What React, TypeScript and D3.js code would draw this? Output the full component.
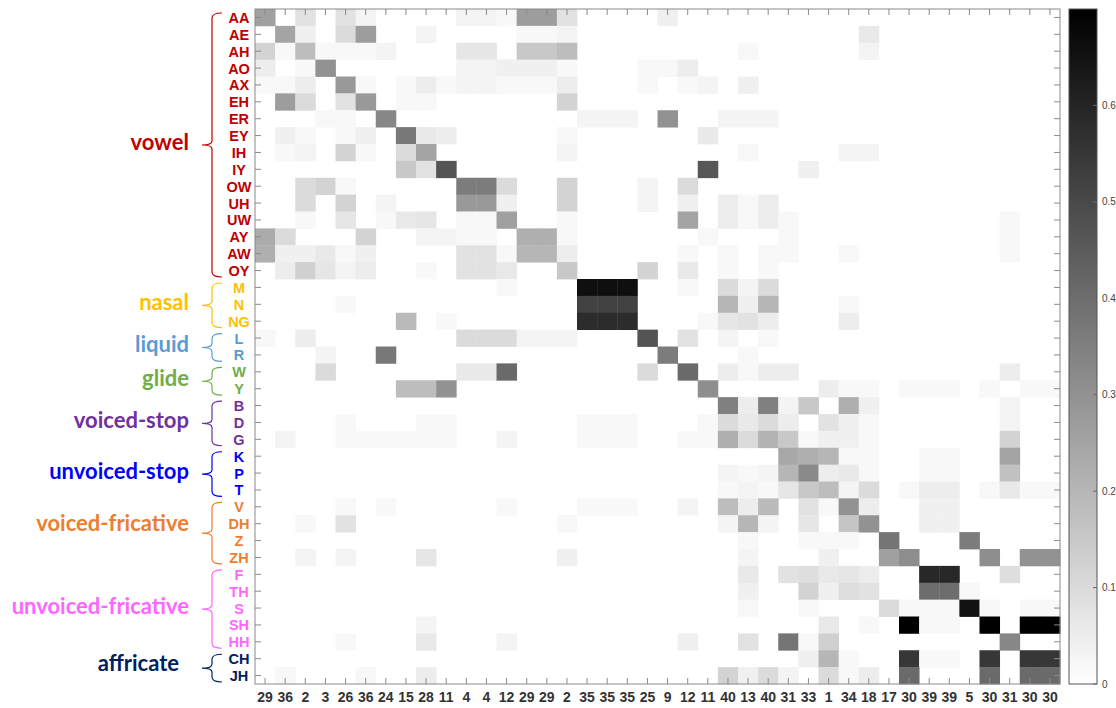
import React from "react";
import * as d3 from "d3";

// Phoneme rows (top to bottom) and the cluster id assigned to each column.
const phonemes = [
  "AA", "AE", "AH", "AO", "AX", "EH", "ER", "EY", "IH", "IY", "OW", "UH", "UW", "AY", "AW", "OY",
  "M", "N", "NG", "L", "R", "W", "Y", "B", "D", "G", "K", "P", "T",
  "V", "DH", "Z", "ZH", "F", "TH", "S", "SH", "HH", "CH", "JH",
];
const clusterIds = [
  "29", "36", "2", "3", "26", "36", "24", "15", "28", "11", "4", "4", "12", "29", "29", "2",
  "35", "35", "35", "25", "9", "12", "11", "40", "13", "40", "31", "33", "1", "34", "18", "17",
  "30", "39", "39", "5", "30", "31", "30", "30",
];

// Phoneme classes, in row order, with the number of phonemes in each.
const groupNames = [
  "vowel", "nasal", "liquid", "glide", "voiced-stop", "unvoiced-stop",
  "voiced-fricative", "unvoiced-fricative", "affricate",
];
const groupSizes = [16, 3, 2, 2, 3, 3, 4, 5, 2];

// Non-zero proportions per row as [column, value]; unlisted cells are 0.
const vowelRows: [number, number][][] = [
  [[0, .26], [2, .08], [4, .08], [5, .03], [10, .03], [11, .03], [12, .02], [13, .27], [14, .27], [15, .08], [20, .04]],
  [[1, .25], [2, .04], [4, .1], [5, .27], [8, .03], [13, .02], [14, .02], [15, .03], [30, .06]],
  [[0, .12], [1, .02], [2, .18], [3, .02], [4, .02], [5, .02], [6, .03], [10, .07], [11, .07], [13, .15], [14, .15], [15, .18], [24, .02], [30, .03]],
  [[0, .05], [2, .02], [3, .3], [10, .03], [11, .03], [12, .04], [13, .04], [14, .04], [15, .02], [19, .02], [20, .02], [21, .05]],
  [[0, .02], [1, .02], [2, .05], [4, .28], [5, .02], [7, .02], [8, .05], [9, .02], [10, .03], [11, .03], [12, .02], [13, .02], [14, .02], [15, .05], [19, .02], [21, .02], [22, .03], [24, .04]],
  [[1, .27], [2, .1], [4, .08], [5, .28], [7, .02], [8, .02], [15, .12]],
  [[3, .02], [4, .02], [6, .33], [16, .03], [17, .03], [18, .03], [20, .3], [23, .03], [24, .03], [25, .03]],
  [[1, .04], [2, .02], [4, .02], [5, .04], [7, .37], [8, .06], [9, .05], [15, .02], [22, .06]],
  [[1, .02], [2, .03], [4, .12], [5, .02], [7, .1], [8, .25], [15, .03], [24, .02], [29, .03], [30, .03]],
  [[7, .15], [8, .08], [9, .47], [22, .46], [27, .04]],
  [[2, .1], [3, .12], [4, .02], [10, .36], [11, .36], [12, .1], [15, .12], [19, .03], [21, .1]],
  [[2, .1], [4, .12], [6, .03], [10, .28], [11, .28], [12, .04], [15, .12], [19, .03], [21, .04], [23, .05], [24, .02], [25, .05]],
  [[2, .02], [4, .07], [6, .02], [7, .06], [8, .07], [10, .02], [11, .02], [12, .26], [15, .02], [21, .25], [23, .05], [24, .02], [25, .05], [26, .02], [37, .02]],
  [[0, .23], [1, .1], [5, .12], [8, .03], [9, .03], [10, .02], [11, .02], [13, .22], [14, .22], [15, .02], [22, .02], [26, .02], [37, .02]],
  [[0, .22], [1, .04], [2, .04], [3, .06], [4, .02], [5, .04], [10, .08], [11, .08], [12, .02], [13, .2], [14, .2], [15, .05], [21, .02], [23, .02], [25, .02], [26, .02], [29, .02], [37, .02]],
  [[1, .05], [2, .13], [3, .07], [4, .03], [5, .05], [8, .02], [10, .08], [11, .08], [12, .06], [15, .15], [19, .12], [21, .06], [23, .02], [25, .02]],
];
const nasalRows: [number, number][][] = [
  [[12, .02], [16, .66], [17, .66], [18, .66], [21, .02], [23, .1], [24, .03], [25, .1]],
  [[4, .02], [16, .52], [17, .52], [18, .52], [23, .2], [24, .04], [25, .2], [29, .02]],
  [[7, .19], [9, .02], [16, .58], [17, .58], [18, .58], [22, .02], [23, .07], [24, .08], [25, .05], [29, .05]],
];
const liquidGlideRows: [number, number][][] = [
  [[0, .02], [2, .05], [10, .1], [11, .1], [12, .1], [13, .03], [14, .03], [15, .03], [19, .47], [21, .08], [23, .03], [25, .02]],
  [[3, .03], [6, .37], [20, .36], [24, .02]],
  [[3, .1], [10, .06], [11, .06], [12, .41], [19, .1], [21, .41], [23, .05], [24, .02], [25, .05], [26, .05], [37, .05]],
  [[7, .18], [8, .18], [9, .3], [22, .31], [28, .05], [29, .02], [30, .02], [32, .02], [33, .02], [34, .02], [36, .02], [38, .02], [39, .02]],
];
const stopRows: [number, number][][] = [
  [[23, .35], [24, .05], [25, .35], [26, .03], [27, .15], [29, .22], [30, .04], [37, .03]],
  [[4, .02], [8, .02], [9, .02], [16, .02], [17, .02], [18, .02], [22, .02], [23, .1], [24, .06], [25, .1], [26, .05], [28, .08], [29, .04], [30, .02], [37, .03]],
  [[1, .03], [4, .02], [5, .02], [6, .02], [7, .02], [8, .02], [9, .02], [12, .03], [16, .02], [17, .02], [18, .02], [21, .02], [22, .02], [23, .22], [24, .1], [25, .21], [26, .15], [27, .02], [28, .04], [29, .04], [30, .02], [37, .12]],
  [[26, .24], [27, .22], [28, .2], [29, .02], [30, .02], [33, .02], [34, .02], [37, .25]],
  [[23, .03], [24, .02], [25, .03], [26, .2], [27, .32], [28, .05], [29, .06], [30, .02], [33, .02], [34, .02], [37, .17]],
  [[23, .02], [24, .03], [25, .02], [26, .07], [27, .15], [28, .18], [29, .03], [30, .1], [32, .02], [33, .05], [34, .05], [36, .02], [37, .06], [38, .02], [39, .02]],
];
const fricativeRows: [number, number][][] = [
  [[4, .02], [6, .02], [12, .02], [16, .02], [17, .02], [18, .02], [21, .03], [23, .18], [24, .05], [25, .19], [27, .08], [28, .02], [29, .3], [30, .05], [33, .04], [34, .04]],
  [[2, .02], [4, .08], [15, .02], [23, .03], [24, .2], [25, .03], [27, .07], [29, .16], [30, .3], [33, .04], [34, .04]],
  [[24, .02], [27, .02], [28, .02], [29, .02], [31, .38], [35, .36]],
  [[2, .03], [4, .03], [8, .07], [15, .04], [24, .03], [28, .04], [31, .26], [32, .31], [36, .31], [38, .3], [39, .3]],
  [[24, .06], [26, .08], [27, .09], [28, .06], [29, .07], [30, .05], [33, .59], [34, .59], [37, .09]],
  [[24, .04], [27, .12], [28, .04], [29, .09], [30, .08], [33, .4], [34, .4], [35, .02]],
  [[24, .02], [27, .02], [31, .1], [32, .02], [33, .02], [34, .02], [35, .65], [36, .02], [38, .02], [39, .02]],
  [[8, .03], [28, .06], [30, .02], [32, .7], [33, .02], [34, .02], [36, .7], [38, .7], [39, .7]],
  [[4, .02], [8, .06], [12, .03], [21, .04], [24, .08], [26, .38], [27, .02], [28, .13], [37, .33]],
];
const affricateRows: [number, number][][] = [
  [[27, .04], [28, .2], [29, .02], [32, .55], [33, .02], [34, .02], [36, .55], [38, .55], [39, .55]],
  [[1, .02], [5, .02], [8, .05], [23, .12], [24, .04], [25, .1], [26, .03], [28, .1], [29, .02], [30, .05], [32, .41], [36, .41], [38, .41], [39, .41]],
];

const colorbarTicks = [0, 0.1, 0.2, 0.3, 0.4, 0.5, 0.6];
const colorMax = 0.7;

const groupColors = [
  "#C00000", "#FFC000", "#5B9BD5", "#70AD47", "#7030A0", "#0000FF",
  "#ED7D31", "#FF66FF", "#002060",
];

const W = 1116;
const H = 708;
const plot = { left: 255, top: 9, right: 1060, bottom: 684 };
const bar = { left: 1069, right: 1097 };
const SANS = "'Liberation Sans', Arial, Helvetica, sans-serif";

export default function App() {
  const allRows = [
    ...vowelRows, ...nasalRows, ...liquidGlideRows, ...stopRows, ...fricativeRows, ...affricateRows,
  ];
  const cells = allRows.flatMap((row, r) => row.map(([c, v]) => ({ r, c, v })));

  const x = d3.scaleBand<number>().domain(d3.range(clusterIds.length)).range([plot.left, plot.right]);
  const y = d3.scaleBand<number>().domain(d3.range(phonemes.length)).range([plot.top, plot.bottom]);
  const shade = d3.scaleLinear<string>().domain([0, colorMax]).range(["#ffffff", "#000000"]).clamp(true);
  const cb = d3.scaleLinear().domain([0, colorMax]).range([plot.bottom, plot.top]);

  const rowGroup: number[] = [];
  groupSizes.forEach((n, g) => { for (let i = 0; i < n; i++) rowGroup.push(g); });
  const starts = groupSizes.map((_, g) => d3.sum(groupSizes.slice(0, g)));

  const tick = 6;
  const axisColor = "#8a8a8a";
  const braceX = 212;
  const labelNudge: Record<string, { dx: number; dy: number }> = {
    "voiced-fricative": { dx: 0, dy: -10 },
    affricate: { dx: -10, dy: -5 },
  };

  return (
    <div style={{ position: "absolute", left: 0, top: 0 }}>
      <svg width={W} height={H} style={{ display: "block", background: "#fff" }}>
        <defs>
          <linearGradient id="cbGrad" x1="0" y1="1" x2="0" y2="0">
            <stop offset="0" stopColor={shade(0)} />
            <stop offset="1" stopColor={shade(colorMax)} />
          </linearGradient>
        </defs>

        {/* matrix cells */}
        <g>
          {cells.map((d, i) => (
            <rect
              key={i}
              x={x(d.c)!}
              y={y(d.r)!}
              width={x.bandwidth() + 0.4}
              height={y.bandwidth() + 0.4}
              fill={shade(d.v)}
            />
          ))}
        </g>

        {/* frame and inward ticks on all four sides */}
        <g stroke={axisColor} strokeWidth={1} fill="none">
          <rect x={plot.left} y={plot.top} width={plot.right - plot.left} height={plot.bottom - plot.top} />
          {phonemes.map((_, r) => {
            const cy = y(r)! + y.bandwidth() / 2;
            return (
              <g key={"yt" + r}>
                <line x1={plot.left} x2={plot.left + tick} y1={cy} y2={cy} />
                <line x1={plot.right} x2={plot.right - tick} y1={cy} y2={cy} />
              </g>
            );
          })}
          {clusterIds.map((_, c) => {
            const cx = x(c)! + x.bandwidth() / 2;
            return (
              <g key={"xt" + c}>
                <line x1={cx} x2={cx} y1={plot.top} y2={plot.top + tick} />
                <line x1={cx} x2={cx} y1={plot.bottom} y2={plot.bottom - tick} />
              </g>
            );
          })}
        </g>

        {/* column labels */}
        <g fontFamily={SANS} fontWeight="bold" fontSize={14} fill="#333" textAnchor="middle">
          {clusterIds.map((t, c) => (
            <text key={"xl" + c} x={x(c)! + x.bandwidth() / 2} y={702}>{t}</text>
          ))}
        </g>

        {/* phoneme labels */}
        <g fontFamily={SANS} fontWeight="bold" fontSize={14.5} textAnchor="middle">
          {phonemes.map((p, r) => (
            <text key={"yl" + r} x={239} y={y(r)! + y.bandwidth() / 2 + 5.5} fill={groupColors[rowGroup[r]]}>{p}</text>
          ))}
        </g>

        {/* class braces and names */}
        {groupNames.map((name, g) => {
          const top = y(starts[g])! + 4;
          const bottom = y(starts[g] + groupSizes[g] - 1)! + y.bandwidth() - 2;
          const mid = (top + bottom) / 2;
          const color = groupColors[g];
          const r = 5;
          const path = [
            `M${braceX + 10},${top}`,
            `Q${braceX},${top} ${braceX},${top + r}`,
            `L${braceX},${mid - 4}`,
            `Q${braceX},${mid} ${braceX - 10},${mid}`,
            `Q${braceX},${mid} ${braceX},${mid + 4}`,
            `L${braceX},${bottom - r}`,
            `Q${braceX},${bottom} ${braceX + 10},${bottom}`,
          ].join(" ");
          const n = labelNudge[name] || { dx: 0, dy: -3 };
          return (
            <g key={name}>
              <path d={path} fill="none" stroke={color} strokeWidth={1.2} />
              <text
                x={189 + n.dx}
                y={mid + n.dy}
                dy="0.35em"
                textAnchor="end"
                fontFamily="Lato, 'Open Sans', sans-serif"
                fontWeight="bold"
                fontSize={22}
                fill={color}
              >
                {name}
              </text>
            </g>
          );
        })}

        {/* colour bar */}
        <rect
          x={bar.left}
          y={plot.top}
          width={bar.right - bar.left}
          height={plot.bottom - plot.top}
          fill="url(#cbGrad)"
          stroke="#555"
          strokeWidth={1}
        />
        <g stroke="#666" strokeWidth={1}>
          {colorbarTicks.map((t) => (
            <line key={"cbt" + t} x1={bar.right - 4} x2={bar.right} y1={cb(t)} y2={cb(t)} />
          ))}
        </g>
        <g fontFamily={SANS} fontSize={10} fill="#444">
          {colorbarTicks.map((t) => (
            <text key={"cbl" + t} x={bar.right + 5} y={cb(t)} dy="0.35em">{String(t)}</text>
          ))}
        </g>
      </svg>
    </div>
  );
}
